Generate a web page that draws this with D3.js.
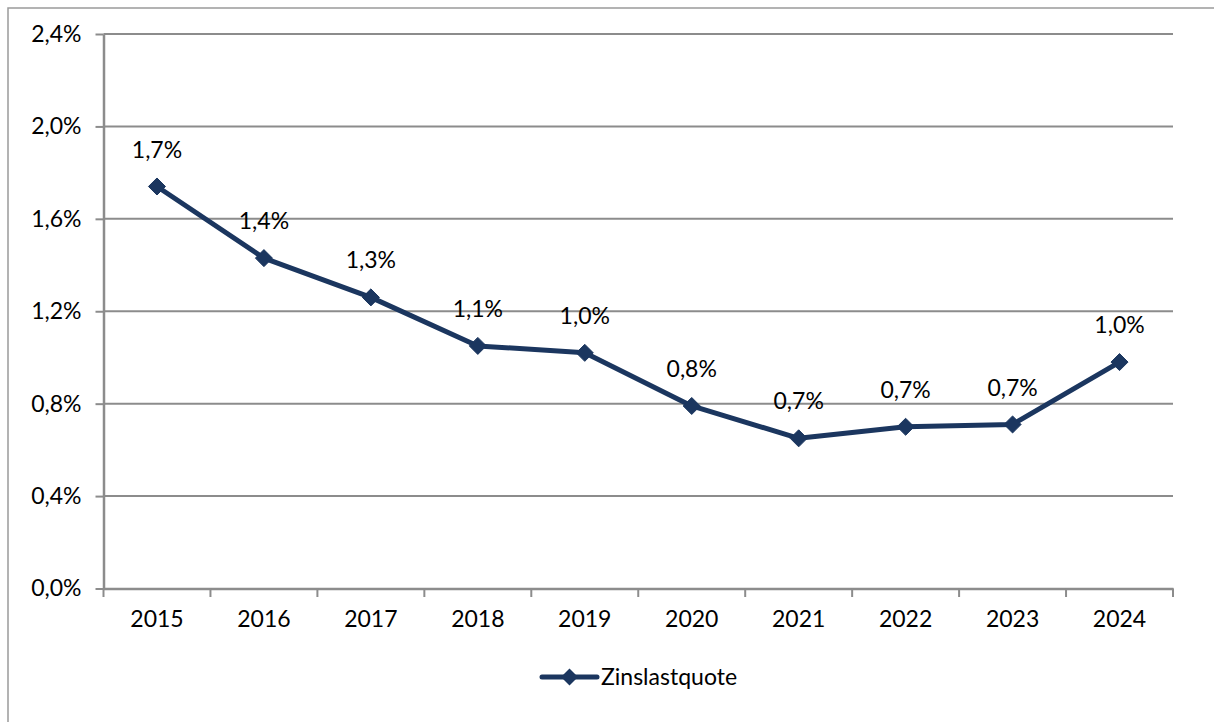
<!DOCTYPE html>
<html><head><meta charset="utf-8">
<script src="https://cdn.jsdelivr.net/npm/d3@7"></script>
<style>body{margin:0;background:#fff}svg{display:block}text{font-family:Lato,"Open Sans",sans-serif}</style>
</head><body>
<script>
const years = ["2015","2016","2017","2018","2019","2020","2021","2022","2023","2024"];
const values = [1.74,1.43,1.26,1.05,1.02,0.79,0.65,0.70,0.71,0.98];
const labels = ["1,7%","1,4%","1,3%","1,1%","1,0%","0,8%","0,7%","0,7%","0,7%","1,0%"];
const yTicks = [0,0.4,0.8,1.2,1.6,2.0,2.4];
const seriesName = "Zinslastquote";

const W=1214,H=722, color="#1b365f", gridC="#8c8c8c";
const svg=d3.select("body").append("svg").attr("width",W).attr("height",H);
svg.append("rect").attr("x",8).attr("y",8).attr("width",W).attr("height",H).attr("fill","none").attr("stroke","#9a9a9a").attr("stroke-width",1.5);

const x=d3.scaleBand().domain(years).range([103.5,1173]);
const y=d3.scaleLinear().domain([0,2.4]).range([588.5,34]);
const fmt=d=>d3.format(".1f")(d).replace(".",",")+"%";

// gridlines
svg.append("g").selectAll("line").data(yTicks.slice(1)).join("line")
 .attr("x1",103.5).attr("x2",1173).attr("y1",d=>y(d)).attr("y2",d=>y(d))
 .attr("stroke",gridC).attr("stroke-width",2);

const ya=svg.append("g").attr("transform","translate(103.5,0)")
 .call(d3.axisLeft(y).tickValues(yTicks).tickFormat(fmt).tickSizeInner(8).tickSizeOuter(0).tickPadding(14));
ya.select(".domain").attr("stroke",gridC).attr("stroke-width",2.5);
ya.selectAll(".tick line").attr("stroke",gridC).attr("stroke-width",2);
ya.selectAll("text").attr("font-size",23).attr("fill","#000").attr("font-family","Lato");

const xa=svg.append("g").attr("transform","translate(0,588.5)")
 .call(d3.axisBottom(x).tickSize(0).tickPadding(22));
xa.select(".domain").attr("stroke",gridC).attr("stroke-width",2.5);
xa.selectAll("text").attr("font-size",23).attr("fill","#000").attr("font-family","Lato");
// category boundary ticks
const bounds=years.map(d=>x(d)).concat([x(years[years.length-1])+x.bandwidth()]);
svg.append("g").selectAll("line").data(bounds).join("line")
 .attr("x1",d=>d).attr("x2",d=>d).attr("y1",588.5).attr("y2",597)
 .attr("stroke",gridC).attr("stroke-width",2);

const cx=d=>x(d)+x.bandwidth()/2;
const data=years.map((yr,i)=>({yr,v:values[i],l:labels[i]}));
svg.append("path").datum(data).attr("fill","none").attr("stroke",color).attr("stroke-width",5)
 .attr("stroke-linejoin","round")
 .attr("d",d3.line().x(d=>cx(d.yr)).y(d=>y(d.v)));
const diamond=d3.symbol().type(d3.symbolDiamond2).size(185);
svg.append("g").selectAll("path").data(data).join("path")
 .attr("transform",d=>`translate(${cx(d.yr)},${y(d.v)})`).attr("d",diamond).attr("fill",color)
 .attr("stroke",color).attr("stroke-width",1).attr("stroke-linejoin","round");
svg.append("g").selectAll("text").data(data).join("text")
 .attr("x",d=>cx(d.yr)).attr("y",d=>y(d.v)-37).attr("dy","0.35em").attr("text-anchor","middle")
 .attr("font-size",23).attr("fill","#000").text(d=>d.l);

// legend
const lg=svg.append("g").attr("transform","translate(542,677)");
lg.append("line").attr("x1",0).attr("x2",55).attr("stroke",color).attr("stroke-width",5).attr("stroke-linecap","round");
lg.append("path").attr("transform","translate(27.5,0)").attr("d",diamond).attr("fill",color);
lg.append("text").attr("x",59).attr("dy","0.35em").attr("font-size",23).attr("fill","#000").text(seriesName);
</script>
</body></html>
